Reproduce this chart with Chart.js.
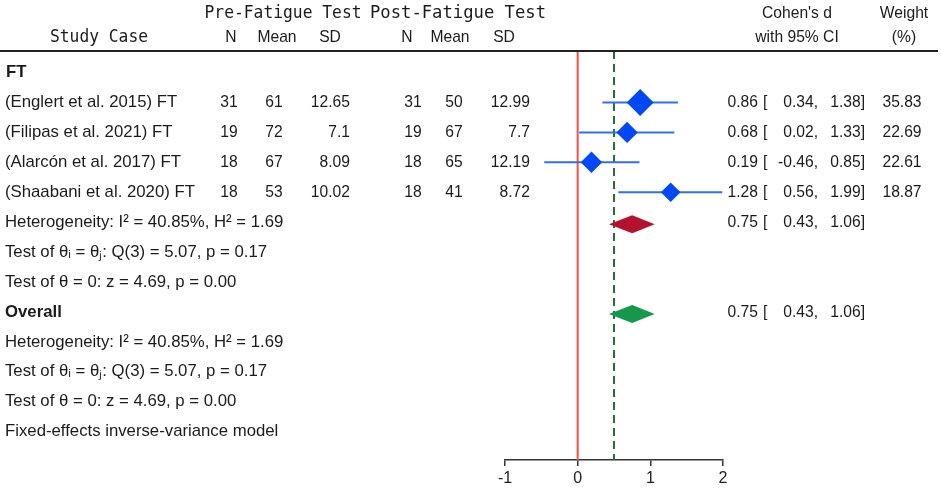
<!DOCTYPE html>
<html>
<head>
<meta charset="utf-8">
<script src="https://cdn.jsdelivr.net/npm/chart.js@4.4.1/dist/chart.umd.min.js"></script>
<style>
  html, body { margin: 0; padding: 0; background: #fff; }
</style>
</head>
<body>
<canvas id="forestChart" width="941" height="490"></canvas>
<script>
// Data
const studies = ["(Englert et al. 2015) FT", "(Filipas et al. 2021) FT", "(Alarcón et al. 2017) FT", "(Shaabani et al. 2020) FT"];
const preN = [31, 19, 18, 18];
const preMean = [61, 72, 67, 53];
const preSD = ["12.65", "7.1", "8.09", "10.02"];
const postN = [31, 19, 18, 18];
const postMean = [50, 67, 65, 41];
const postSD = ["12.99", "7.7", "12.19", "8.72"];
const effect = [0.86, 0.68, 0.19, 1.28];
const ciLow = [0.34, 0.02, -0.46, 0.56];
const ciHigh = [1.38, 1.33, 0.85, 1.99];
const weight = [35.83, 22.69, 22.61, 18.87];
const pooled = [0.75, 0.43, 1.06]; // estimate, low, high
const xTicks = [-1, 0, 1, 2];
const refLine = 0.5; // dashed line

const statLines = [
  "Heterogeneity: I\u00B2 = 40.85%, H\u00B2 = 1.69",
  "Test of \u03B8\u1D62 = \u03B8\u2C7C: Q(3) = 5.07, p = 0.17",
  "Test of \u03B8 = 0: z = 4.69, p = 0.00"
];

// row layout (one row per text line)
const studyRows = [1, 2, 3, 4];
const summaryRows = [5, 8];
const yMin = -0.72, yMax = 12.95;

const fmt = v => v.toFixed(2);

// CI lines, one dataset each
const ciSets = studies.map((s, i) => ({
  data: [{ x: ciLow[i], y: studyRows[i] }, { x: ciHigh[i], y: studyRows[i] }],
  showLine: true,
  borderColor: "#2f6ff0",
  borderWidth: 2,
  pointRadius: 0
}));

// summary diamonds
const diamondPlugin = {
  id: "diamonds",
  afterDatasetsDraw(chart) {
    const { ctx, scales: { x, y } } = chart;
    const colors = ["#b5122e", "#16984a"];
    summaryRows.forEach((r, k) => {
      const yc = y.getPixelForValue(r) + 2;
      ctx.save();
      ctx.fillStyle = colors[k];
      ctx.beginPath();
      ctx.moveTo(x.getPixelForValue(pooled[1]), yc);
      ctx.lineTo(x.getPixelForValue(pooled[0]), yc - 9);
      ctx.lineTo(x.getPixelForValue(pooled[2]), yc);
      ctx.lineTo(x.getPixelForValue(pooled[0]), yc + 9);
      ctx.closePath();
      ctx.fill();
      ctx.restore();
    });
  }
};

// narrow text like the original export
function put(ctx, text, x, y, align, sq = 0.92) {
  ctx.save();
  ctx.translate(x, y);
  ctx.scale(sq, 1);
  ctx.textAlign = align;
  ctx.fillText(text, 0, 0);
  ctx.restore();
}

const textPlugin = {
  id: "tableText",
  afterDraw(chart) {
    const { ctx, scales: { y } } = chart;
    const rowY = r => y.getPixelForValue(r);
    const body = '17px "Liberation Sans", Arial, sans-serif';
    const bold = 'bold 17px "Liberation Sans", Arial, sans-serif';
    const wide = 0.985;
    ctx.save();
    ctx.fillStyle = "#1b1b1b";
    ctx.textBaseline = "middle";

    // headers
    ctx.font = '18px "DejaVu Sans Mono", monospace';
    ctx.textAlign = "center";
    ctx.fillText("Pre-Fatigue Test", 283, 13, 157);
    ctx.fillText("Post-Fatigue Test", 458, 13, 176);
    ctx.fillText("Study Case", 99, 37, 98);

    ctx.font = body;
    [["N", 231], ["Mean", 277], ["SD", 330], ["N", 407], ["Mean", 450], ["SD", 504]].forEach(h => {
      put(ctx, h[0], h[1], 37, "center");
    });
    put(ctx, "Cohen's d", 797, 13, "center");
    put(ctx, "with 95% CI", 797, 37, "center");
    put(ctx, "Weight", 904, 13, "center");
    put(ctx, "(%)", 904, 37, "center");

    // header rule
    ctx.strokeStyle = "#222";
    ctx.lineWidth = 2;
    ctx.beginPath();
    ctx.moveTo(0, 51);
    ctx.lineTo(938, 51);
    ctx.stroke();

    // left labels
    ctx.font = bold;
    put(ctx, "FT", 6, rowY(0), "left", wide);
    put(ctx, "Overall", 5, rowY(8), "left", wide);
    ctx.font = body;
    studies.forEach((s, i) => put(ctx, s, 5, rowY(studyRows[i]), "left", wide));
    statLines.forEach((t, k) => {
      put(ctx, t, 5, rowY(5 + k), "left", wide);
      put(ctx, t, 5, rowY(9 + k), "left", wide);
    });
    put(ctx, "Fixed-effects inverse-variance model", 5, rowY(12), "left", wide);

    // study columns
    studies.forEach((s, i) => {
      const yy = rowY(studyRows[i]);
      put(ctx, String(preN[i]), 229, yy, "center");
      put(ctx, String(preMean[i]), 274, yy, "center");
      put(ctx, String(postN[i]), 413, yy, "center");
      put(ctx, String(postMean[i]), 454, yy, "center");
      put(ctx, weight[i].toFixed(2), 902, yy, "center");
      put(ctx, preSD[i], 350, yy, "right");
      put(ctx, postSD[i], 530, yy, "right");
    });

    // effect size column
    const ciText = (est, lo, hi, yy) => {
      put(ctx, fmt(est), 758, yy, "right");
      put(ctx, "[", 763, yy, "left");
      put(ctx, fmt(lo) + ",", 818, yy, "right");
      put(ctx, fmt(hi) + "]", 865, yy, "right");
    };
    studies.forEach((s, i) => ciText(effect[i], ciLow[i], ciHigh[i], rowY(studyRows[i])));
    summaryRows.forEach(r => ciText(pooled[0], pooled[1], pooled[2], rowY(r)));
    ctx.restore();
  }
};

const ctx = document.getElementById("forestChart").getContext("2d");
new Chart(ctx, {
  type: "scatter",
  data: {
    datasets: [
      {
        data: effect.map((d, i) => ({ x: d, y: studyRows[i] })),
        pointStyle: "rectRot",
        pointRadius: weight.map(w => 2.25 * Math.sqrt(w)),
        backgroundColor: "#0047f5",
        borderWidth: 0
      },
      ...ciSets,
      {
        data: [{ x: 0, y: yMin }, { x: 0, y: yMax }],
        showLine: true,
        borderColor: "#ff5040",
        borderWidth: 2,
        pointRadius: 0
      },
      {
        data: [{ x: refLine, y: yMin }, { x: refLine, y: yMax }],
        showLine: true,
        borderColor: "#2e6b36",
        borderWidth: 2,
        borderDash: [8, 5],
        pointRadius: 0
      }
    ]
  },
  options: {
    responsive: false,
    animation: false,
    layout: { padding: { left: 505, right: 218, top: 51, bottom: 0 } },
    plugins: {
      legend: { display: false },
      tooltip: { enabled: false }
    },
    scales: {
      x: {
        type: "linear",
        min: -1,
        max: 2,
        afterBuildTicks: s => { s.ticks = xTicks.map(v => ({ value: v })); },
        afterFit: s => { s.height = 30; },
        grid: { drawOnChartArea: false, tickLength: 6, color: "#333", lineWidth: 1.5 },
        border: { color: "#333", width: 1.5 },
        ticks: {
          color: "#222",
          padding: 3,
          font: { family: '"Liberation Sans", Arial, sans-serif', size: 16 }
        }
      },
      y: {
        type: "linear",
        display: false,
        reverse: true,
        min: yMin,
        max: yMax
      }
    }
  },
  plugins: [diamondPlugin, textPlugin]
});
</script>
</body>
</html>
